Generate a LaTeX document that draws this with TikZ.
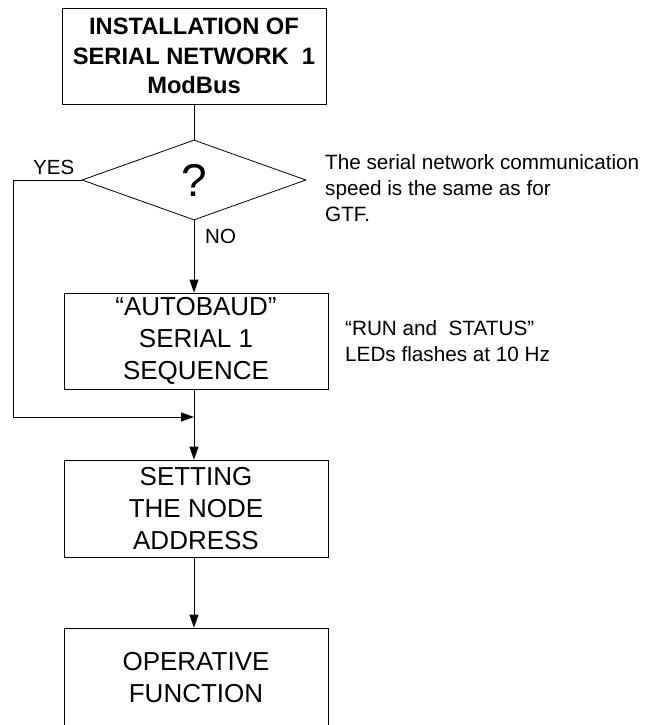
\documentclass[tikz,border=0pt]{standalone}
\usepackage{fontspec}
\setmainfont{Liberation Sans}
\usetikzlibrary{shapes.geometric,arrows.meta}
\begin{document}
\begin{tikzpicture}[x=1pt,y=-1pt,
  box/.style={draw,line width=0.8pt,rectangle,minimum width=264pt,inner sep=0pt,align=center,font=\fontsize{26}{32}\selectfont},
  topbox/.style={box,font=\bfseries\fontsize{23.7}{29.5}\selectfont},
  dec/.style={draw,line width=0.8pt,diamond,aspect=2.8,minimum width=224pt,minimum height=80pt,inner sep=0pt,font=\fontsize{46}{46}\selectfont},
  note/.style={align=left,inner sep=0pt,font=\fontsize{20.7}{26}\selectfont},
  lbl/.style={inner sep=0pt,font=\fontsize{20.5}{24}\selectfont},
  conn/.style={line width=0.8pt},
  arr/.style={conn,-{Triangle[length=13pt,width=9pt]}}]
\useasboundingbox (0,0) rectangle (665,725);
\clip (0,0) rectangle (665,725);
\node[topbox,minimum height=96pt] (top) at (194,56) {INSTALLATION OF\\SERIAL NETWORK\ \ 1\\ModBus};
\node[dec] (dia) at (194,180) {?};
\node[box,minimum height=96pt] (auto) at (196,341) {“AUTOBAUD”\\SERIAL 1\\SEQUENCE};
\node[box,minimum height=97pt] (set) at (196,508.5) {SETTING\\THE NODE\\ADDRESS};
\node[box,minimum height=100pt] (op) at (196,678) {OPERATIVE\\FUNCTION};
\node[lbl,anchor=base west] (yes) at (33,174) {YES};
\node[lbl,anchor=base west] (no) at (205,243) {NO};
\node[note,anchor=base west] (n1) at (325,221) {The serial network communication\\speed is the same as for\\GTF.};
\node[note,anchor=base west] (n2) at (345,361) {“RUN and\ \ STATUS”\\LEDs flashes at 10 Hz};
\coordinate (yl) at (13,180);
\coordinate (j) at (194,417);
\draw[conn] (top.south -| dia.north) -- (dia.north);
\draw[arr] (dia.south) -- (dia.south |- auto.north);
\draw[conn] (auto.south -| j) -- (j);
\draw[arr] (j) -- (j |- set.north);
\draw[arr] (set.south -| j) -- (j |- op.north);
\draw[conn] (dia.west) -- (dia.west -| yl) -- (yl |- j);
\draw[arr] (yl |- j) -- (j);
\end{tikzpicture}
\end{document}
